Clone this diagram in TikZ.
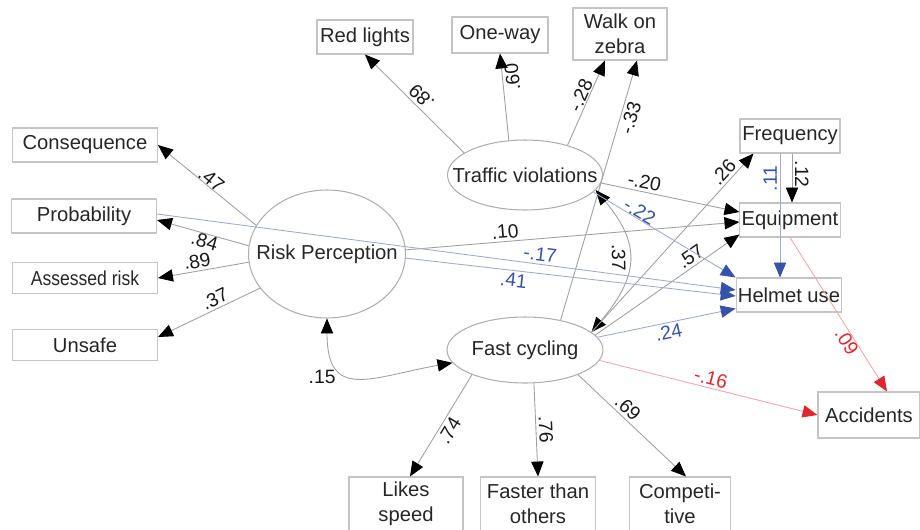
\documentclass[tikz,border=0pt]{standalone}
\usepackage{fontspec}
\setmainfont{Liberation Sans}
\usepackage{graphicx}
\usetikzlibrary{arrows.meta,calc,shapes.geometric}
\definecolor{semgray}{HTML}{A0A0A0}
\definecolor{semframe}{HTML}{C4C4C4}
\definecolor{semblue}{HTML}{3553A8}
\definecolor{semblueline}{HTML}{A2AACB}
\definecolor{semred}{HTML}{E0262E}
\definecolor{semredline}{HTML}{F2A5AB}

\begin{document}
\begin{tikzpicture}[x=0.02cm,y=0.02cm,font=\fontsize{11.5}{14}\selectfont,
  obs/.style={draw=semframe,line width=0.6pt,minimum height=0.68cm,inner sep=1pt,align=center,text=black!85},
  lat/.style={draw=semgray!85,ellipse,line width=0.6pt,label={[text=black!85]center:#1}},
  pth/.style={draw=semgray,line width=0.5pt,-{Triangle[length=8.5pt,width=7pt,color=black]}},
  bpth/.style={draw=semblueline,line width=0.5pt,-{Triangle[length=8.5pt,width=7pt,color=semblue]}},
  rpth/.style={draw=semredline,line width=0.5pt,-{Triangle[length=8.5pt,width=7pt,color=semred]}},
  cov/.style={draw=semgray,line width=0.5pt,{Triangle[length=8.5pt,width=7pt,color=black]}-{Triangle[length=8.5pt,width=7pt,color=black]}},
  lbl/.style={font=\fontsize{11}{13}\selectfont,inner sep=1.5pt,text=black!90},
  lblb/.style={lbl,text=semblue},
  lblr/.style={lbl,text=semred}]
  \useasboundingbox (0,0) rectangle (920,529);

  \node[obs,minimum width=2.9cm] (cons) at (85,384) {Consequence};
  \node[obs,minimum width=2.9cm] (prob) at (84,313) {Probability};
  \node[obs,minimum width=2.9cm,minimum height=0.62cm] (arisk) at (85,251) {\scalebox{0.87}[1]{Assessed risk}};
  \node[obs,minimum width=2.9cm,minimum height=0.62cm] (unsafe) at (85,184) {Unsafe};
  \node[obs,minimum width=1.92cm] (redl) at (365,492) {Red lights};
  \node[obs,minimum width=1.92cm,minimum height=0.72cm] (oneway) at (500,494) {One-way};
  \node[obs,minimum width=1.88cm,minimum height=1.04cm] (zebra) at (620,495) {Walk on\\zebra};
  \node[lat=Traffic violations,minimum width=3.1cm,minimum height=1.4cm] (tv) at (525,354) {};
  \node[lat=Risk Perception,minimum width=3.14cm,minimum height=2.56cm] (rp) at (327,275) {};
  \node[lat=Fast cycling,minimum width=3.12cm,minimum height=1.32cm] (fc) at (525,179) {};
  \node[obs,minimum width=2cm] (freq) at (790,393) {Frequency};
  \node[obs,minimum width=2cm] (equip) at (790,309) {Equipment};
  \node[obs,minimum width=2.08cm] (helmet) at (789,234) {Helmet use};
  \node[obs,minimum width=2.04cm,minimum height=0.92cm] (acc) at (869,114) {Accidents};
  \node[obs,minimum width=2.28cm,minimum height=1.08cm] (likes) at (406,25) {Likes\\speed};
  \node[obs,minimum width=2.3cm,minimum height=1.08cm] (faster) at (538,25) {Faster than\\others};
  \node[obs,minimum width=2.02cm,minimum height=1.08cm] (compet) at (680,25) {Competi-\\tive};

  \draw[pth] (tv.160) -- node[lbl,sloped,allow upside down,below,pos=0.5]{.89} (redl.south);
  \draw[pth] (tv.115) -- node[lbl,sloped,allow upside down,below,pos=0.72]{.60} (oneway.south);
  \draw[pth] (tv.35) -- node[lbl,sloped,above,inner sep=0.5pt,pos=0.55]{-.28} ($(zebra.south)+(-15,0)$);
  \draw[pth] (fc.40) -- node[lbl,sloped,below,pos=0.79]{-.33} ($(zebra.south)+(17,0)$);

  \draw[pth] (rp.158) -- node[lbl,sloped,above,inner sep=0pt,pos=0.5]{.47} (cons.east);
  \draw[pth] (rp.174) -- node[lbl,sloped,below,inner sep=0pt,pos=0.46]{.84} ($(prob.east)+(0,-4)$);
  \draw[pth] (rp.186) -- node[lbl,sloped,above,pos=0.55]{.89} (arisk.east);
  \draw[pth] (rp.207) -- node[lbl,sloped,above,pos=0.4]{.37} ($(unsafe.east)+(0,8)$);

  \draw[pth] (fc.205) -- node[lbl,sloped,below,pos=0.5]{.74} ($(likes.north)+(4,0)$);
  \draw[pth] (fc.-75) -- node[lbl,sloped,above,pos=0.5]{.76} (faster.north);
  \draw[pth] (fc.-25) -- node[lbl,sloped,above,pos=0.4]{.69} ($(compet.north)+(6,0)$);

  \draw[cov] (rp.south) to[out=-90,in=190,looseness=1.6] node[lbl,pos=0.3,below left]{.15} (fc.190);
  \draw[cov] (tv.-12) to[out=-50,in=50,looseness=1.3] node[lbl,sloped,below,pos=0.47]{.37} (fc.15);

  \draw[pth] (fc.15) -- node[lbl,sloped,above,pos=0.86]{.26} ($(freq.south west)+(14,0)$);
  \draw[pth] (fc.12) -- node[lbl,sloped,above,pos=0.7]{.57} ($(equip.south west)+(0,3)$);
  \draw[bpth] (fc.10) -- node[lblb,sloped,below,pos=0.5]{.24} ($(helmet.south west)+(0,4)$);
  \draw[rpth] (fc.-8) -- node[lblr,sloped,above,pos=0.5]{-.16} (acc.west);

  \draw[pth] (tv.-6) -- node[lbl,sloped,above,pos=0.3]{-.20} ($(equip.west)+(0,8)$);
  \draw[bpth] (tv.-14) -- node[lblb,sloped,above,inner sep=0pt,pos=0.3]{-.22} (helmet.north west);
  \draw[pth] (rp.3) -- node[lbl,sloped,above,pos=0.3]{.10} ($(equip.west)+(0,-2)$);
  \draw[bpth] ($(prob.east)+(0,2)$) -- node[lblb,sloped,above,pos=0.66]{-.17} ($(helmet.west)+(0,5)$);
  \draw[bpth] (rp.-3) -- node[lblb,sloped,below,pos=0.33]{.41} ($(helmet.west)+(0,-1)$);

  \draw[pth] ($(freq.south)+(2,0)$) -- node[lbl,sloped,above,pos=0.42]{.12} ($(equip.north)+(2,0)$);
  \draw[bpth] ($(freq.south)+(-10,0)$) -- node[lblb,rotate=90,anchor=south,pos=0.2]{.11} ($(helmet.north)+(-9,0)$);
  \draw[rpth] (equip.south) -- node[lblr,sloped,below,inner sep=0pt,pos=0.65]{.09} ($(acc.north)+(18,0)$);
\end{tikzpicture}
\end{document}
